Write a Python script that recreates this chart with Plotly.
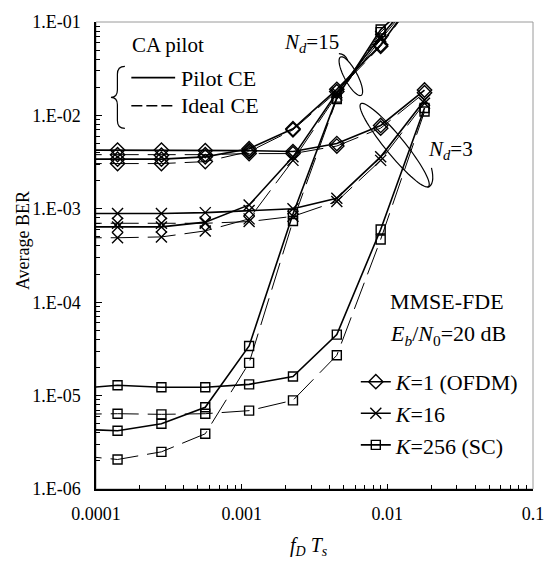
import math
import plotly.graph_objects as go

# ---------------- data ----------------
fdts = [7.03e-5, 1.406e-4, 2.813e-4, 5.625e-4, 1.125e-3, 2.25e-3, 4.5e-3, 9.0e-3, 1.8e-2]

k1_nd3_pilot = [4.25e-3, 4.25e-3, 4.25e-3, 4.2e-3, 4.2e-3, 4.1e-3, 5.0e-3, 7.8e-3, 1.87e-2]
k1_nd3_ideal = [3.8e-3, 3.8e-3, 3.75e-3, 3.8e-3, 3.9e-3, 3.9e-3, 4.7e-3, 7.3e-3, 1.75e-2]
k1_nd15_pilot = [3.4e-3, 3.4e-3, 3.4e-3, 3.6e-3, 4.4e-3, 7.2e-3, 1.9e-2, 5.7e-2, 0.25]
k1_nd15_ideal = [3.05e-3, 3.05e-3, 3.05e-3, 3.2e-3, 4.1e-3, 7.0e-3, 1.8e-2, 5.5e-2, 0.24]

k16_nd3_pilot = [8.9e-4, 8.9e-4, 8.9e-4, 9.1e-4, 9.6e-4, 1.0e-3, 1.3e-3, 3.6e-3, 1.45e-2]
k16_nd3_ideal = [7.0e-4, 7.0e-4, 7.0e-4, 7.0e-4, 7.3e-4, 8.3e-4, 1.2e-3, 3.3e-3, 1.35e-2]
k16_nd15_pilot = [6.4e-4, 6.4e-4, 6.4e-4, 7.2e-4, 1.1e-3, 3.6e-3, 1.75e-2, 7.0e-2, 0.25]
k16_nd15_ideal = [4.9e-4, 4.9e-4, 5.0e-4, 5.8e-4, 7.8e-4, 3.3e-3, 1.65e-2, 6.5e-2, 0.24]

k256_nd3_pilot = [1.18e-5, 1.29e-5, 1.23e-5, 1.23e-5, 1.32e-5, 1.6e-5, 4.5e-5, 6.0e-4, 1.2e-2]
k256_nd3_ideal = [6.3e-6, 6.4e-6, 6.3e-6, 6.4e-6, 6.9e-6, 8.9e-6, 2.7e-5, 4.7e-4, 1.1e-2]
k256_nd15_pilot = [4.4e-6, 4.2e-6, 5.0e-6, 7.5e-6, 3.4e-5, 8.8e-4, 1.55e-2, 8.3e-2, 0.22]
k256_nd15_ideal = [2.3e-6, 2.07e-6, 2.5e-6, 3.9e-6, 2.24e-5, 7.4e-4, 1.5e-2, 7.8e-2, 0.21]

y_tickvals = [1e-6, 1e-5, 1e-4, 1e-3, 1e-2, 1e-1]
y_ticktext = ["1.E-06", "1.E-05", "1.E-04", "1.E-03", "1.E-02", "1.E-01"]
x_tickvals = [1e-4, 1e-3, 1e-2, 1e-1]
x_ticktext = ["0.0001", "0.001", "0.01", "0.1"]

# ---------------- layout geometry ----------------
W, H = 556, 561
L, R, T, B = 96, 21, 15, 72
PW = W - L - R
PH = H - T - B
FONT = '"Liberation Serif", "Times New Roman", Times, serif'


def px(x):
    return (x - L) / PW


def py(y):
    return (H - B - y) / PH


def path_from_pixels(cmds):
    out = []
    for c in cmds:
        if isinstance(c, str):
            out.append(c)
        else:
            out.append("%.5f,%.5f" % (px(c[0]), py(c[1])))
    return " ".join(out)


def ellipse_path(cx, cy, a, b, ang, n=72):
    th = math.radians(ang)
    pts = []
    for i in range(n + 1):
        t = 2 * math.pi * i / n
        x = cx + a * math.cos(t) * math.cos(th) - b * math.sin(t) * math.sin(th)
        y = cy + a * math.cos(t) * math.sin(th) + b * math.sin(t) * math.cos(th)
        pts.append((x, y))
    cmds = ["M", pts[0]]
    for p in pts[1:]:
        cmds += ["L", p]
    cmds.append("Z")
    return path_from_pixels(cmds)


fig = go.Figure()

series = [
    ("<i>K</i>=1 (OFDM)", k1_nd3_pilot, "diamond-open", "solid", True, 11),
    ("k1i3", k1_nd3_ideal, "diamond-open", "ideal", False, 11),
    ("k1p15", k1_nd15_pilot, "diamond-open", "solid", False, 11),
    ("k1i15", k1_nd15_ideal, "diamond-open", "ideal", False, 11),
    ("<i>K</i>=16", k16_nd3_pilot, "x-thin-open", "solid", True, 11),
    ("k16i3", k16_nd3_ideal, "x-thin-open", "ideal", False, 11),
    ("k16p15", k16_nd15_pilot, "x-thin-open", "solid", False, 11),
    ("k16i15", k16_nd15_ideal, "x-thin-open", "ideal", False, 11),
    ("<i>K</i>=256 (SC)", k256_nd3_pilot, "square-open", "solid", True, 9),
    ("k256i3", k256_nd3_ideal, "square-open", "ideal", False, 9),
    ("k256p15", k256_nd15_pilot, "square-open", "solid", False, 9),
    ("k256i15", k256_nd15_ideal, "square-open", "ideal", False, 9),
]

for name, vals, sym, style, show, msize in series:
    if style == "solid":
        line = dict(color="black", width=1.6)
    else:
        line = dict(color="black", width=1.0, dash="28px,9px")
    fig.add_trace(go.Scatter(
        x=fdts, y=vals, mode="lines+markers", name=name, showlegend=show,
        line=line,
        marker=dict(symbol=sym, size=msize, color="black",
                    line=dict(color="black", width=1.4)),
    ))

shapes = [
    dict(type="rect", xref="paper", yref="paper", x0=0, y0=0, x1=1, y1=1,
         line=dict(color="#9a9a9a", width=1), layer="below"),
    # CE legend keys
    dict(type="line", xref="paper", yref="paper", x0=px(131.5), x1=px(175.5),
         y0=py(71.5), y1=py(71.5), line=dict(color="black", width=1.6)),
    dict(type="line", xref="paper", yref="paper", x0=px(131.5), x1=px(175.5),
         y0=py(100), y1=py(100), line=dict(color="black", width=1.6, dash="11px,4px")),
    # brace
    dict(type="path", xref="paper", yref="paper", line=dict(color="black", width=1.2),
         path=path_from_pixels(["M", (125, 60), "Q", (117.5, 60), (117.5, 68), "L", (117.5, 84),
                                "Q", (117.5, 91.5), (111, 91.5), "Q", (117.5, 91.5), (117.5, 99),
                                "L", (117.5, 115), "Q", (117.5, 123), (125, 123)])),
    # N_d = 15 loop
    dict(type="path", xref="paper", yref="paper", line=dict(color="black", width=1.2),
         path=ellipse_path(352, 70, 22, 6.5, 62)),
    dict(type="path", xref="paper", yref="paper", line=dict(color="black", width=1.2),
         path=path_from_pixels(["M", (340, 47), "Q", (346, 47), (349, 54)])),
    # N_d = 3 loop
    dict(type="path", xref="paper", yref="paper", line=dict(color="black", width=1.2),
         path=ellipse_path(396, 140, 54, 9.5, 51)),
    dict(type="path", xref="paper", yref="paper", line=dict(color="black", width=1.2),
         path=path_from_pixels(["M", (429, 183), "Q", (437, 180), (433, 163)])),
]


def ann(text, x, y, size, xanchor="left", yanchor="middle", textangle=0):
    return dict(text=text, x=px(x), y=py(y), xref="paper", yref="paper",
                xanchor=xanchor, yanchor=yanchor, showarrow=False, textangle=textangle,
                font=dict(family=FONT, size=size, color="black"))


annotations = [
    ann("CA pilot", 130, 38, 21),
    ann("Pilot CE", 179, 72, 22),
    ann("Ideal CE", 179, 100, 22),
    ann("<i>N</i><sub><i>d</i></sub>=15", 283, 36, 21),
    ann("<i>N</i><sub><i>d</i></sub>=3", 428, 145, 21),
    ann("MMSE-FDE", 389, 299, 22),
    ann("<i>E</i><sub><i>b</i></sub>/<i>N</i><sub>0</sub>=20 dB", 389, 333, 22),
    ann("Average BER", 22, 237, 18, xanchor="center", textangle=-90),
    ann("<i>f</i><sub><i>D</i></sub> <i>T</i><sub><i>s</i></sub>", 310, 547, 20, xanchor="center"),
]

fig.update_layout(
    width=W, height=H,
    margin=dict(l=L, r=R, t=T, b=B, pad=0),
    paper_bgcolor="white", plot_bgcolor="white",
    font=dict(family=FONT, color="black"),
    showlegend=True,
    legend=dict(x=px(357), y=py(359), xanchor="left", yanchor="top",
                bgcolor="rgba(0,0,0,0)", font=dict(family=FONT, size=22, color="black"),
                itemwidth=30, tracegroupgap=0),
    shapes=shapes,
    annotations=annotations,
    xaxis=dict(type="log", range=[-4, -1], tickvals=x_tickvals, ticktext=x_ticktext,
               ticks="inside", ticklen=5, tickcolor="black", tickwidth=1,
               showline=True, linecolor="black", linewidth=1.5, showgrid=False,
               zeroline=False, tickfont=dict(family=FONT, size=18, color="black"),
               ticklabelstandoff=8,
               minor=dict(ticks="inside", ticklen=4, dtick="D1", tickcolor="black",
                          tickwidth=1, showgrid=False)),
    yaxis=dict(type="log", range=[-6, -1], tickvals=y_tickvals, ticktext=y_ticktext,
               ticks="inside", ticklen=6, tickcolor="black", tickwidth=1,
               showline=True, linecolor="black", linewidth=1.5, showgrid=False,
               zeroline=False, tickfont=dict(family=FONT, size=18, color="black"),
               ticklabelstandoff=10,
               minor=dict(ticks="inside", ticklen=4, dtick="D1", tickcolor="black",
                          tickwidth=1, showgrid=False)),
)

fig.write_html("out.html")
